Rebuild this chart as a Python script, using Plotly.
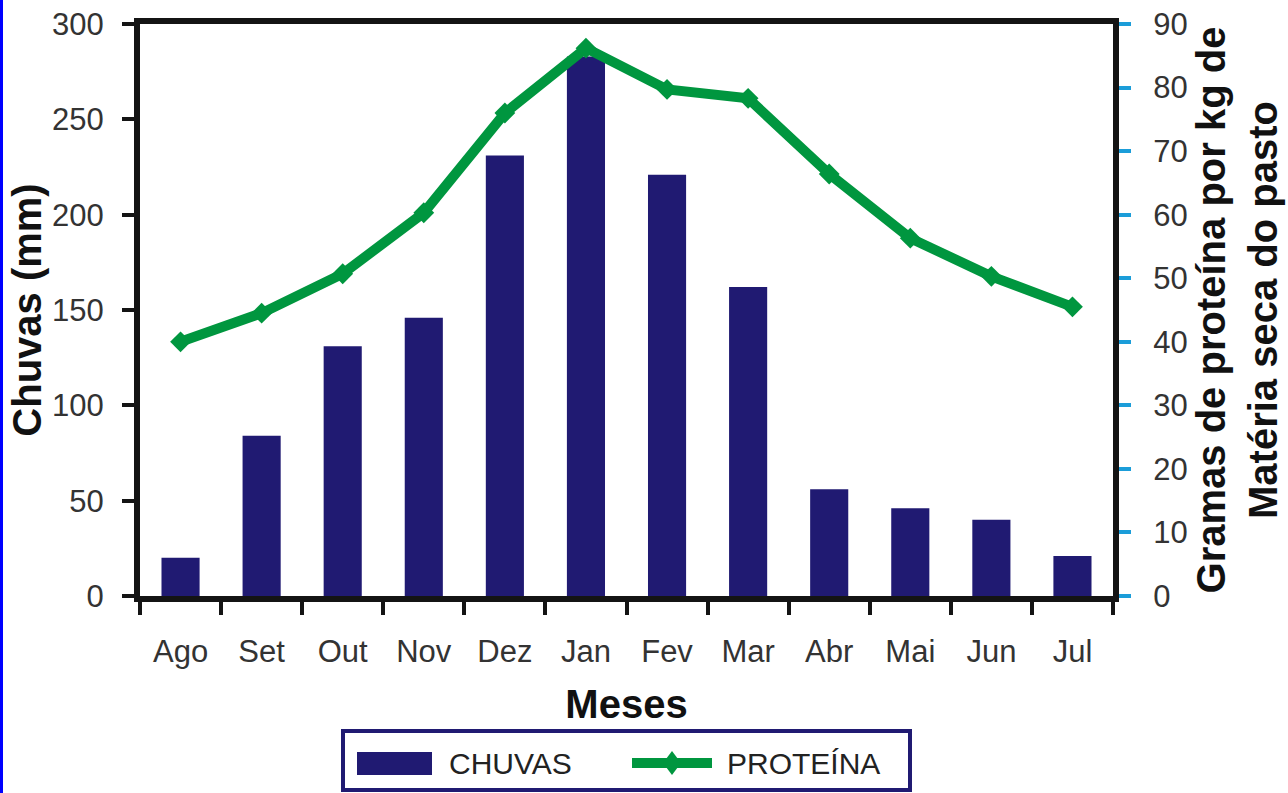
import plotly.graph_objects as go

# Monthly data (August to July)
meses = ["Ago", "Set", "Out", "Nov", "Dez", "Jan", "Fev", "Mar", "Abr", "Mai", "Jun", "Jul"]
chuvas_mm = [20, 84, 131, 146, 231, 283, 221, 162, 56, 46, 40, 21]
proteina_g_kg = [40, 44.5, 50.7, 60.3, 76, 86.2, 79.7, 78.3, 66.4, 56.3, 50.3, 45.5]

nome_chuvas = "CHUVAS"
nome_proteina = "PROTEÍNA"

COR_BARRA = "#201A72"
COR_LINHA = "#00963F"
COR_TICK_DIR = "#1B9DD9"
COR_EIXO = "#141414"
COR_TEXTO = "#333333"
FONTE = "Liberation Sans, Arial, sans-serif"

W, H = 1288, 793
L, R, T, B = 140, 1113, 24, 596


def px_x(px):
    return (px - L) / (R - L)


def px_y(py):
    return (B - py) / (B - T)


fig = go.Figure()

fig.add_trace(go.Bar(
    x=meses, y=chuvas_mm, name=nome_chuvas,
    marker=dict(color=COR_BARRA, line=dict(width=0)),
    yaxis="y", showlegend=False,
))

fig.add_trace(go.Scatter(
    x=meses, y=proteina_g_kg, name=nome_proteina, mode="lines+markers",
    line=dict(color=COR_LINHA, width=10),
    marker=dict(symbol="diamond", size=16, color=COR_LINHA),
    yaxis="y2", showlegend=False,
))

tick_font = dict(family=FONTE, size=31, color=COR_TEXTO)
title_font = dict(family=FONTE, size=40, color="#111111")

fig.update_layout(
    width=W, height=H,
    margin=dict(l=L, r=W - R, t=T, b=H - B),
    paper_bgcolor="white", plot_bgcolor="white",
    bargap=0.53,
    font=dict(family=FONTE),
    xaxis=dict(
        type="category", categoryorder="array", categoryarray=meses,
        range=[-0.5, len(meses) - 0.5], automargin=False,
        showline=True, linewidth=6, linecolor=COR_EIXO, mirror=True,
        ticks="outside", ticklen=13, tickwidth=4, tickcolor=COR_EIXO,
        tickson="boundaries", tickfont=tick_font, ticklabelstandoff=23,
        showgrid=False, zeroline=False,
        title=dict(text="<b>Meses</b>", font=title_font, standoff=24),
    ),
    xaxis2=dict(
        overlaying="x", anchor="y", range=[-0.5, len(meses) - 0.5],
        tickvals=[i - 0.5 for i in range(len(meses) + 1)],
        ticks="inside", ticklen=12, tickwidth=4, tickcolor=COR_EIXO,
        showticklabels=False, showline=False, showgrid=False, zeroline=False,
    ),
    yaxis=dict(
        range=[0, 300], dtick=50, automargin=False,
        showline=True, linewidth=6, linecolor=COR_EIXO,
        ticks="outside", ticklen=12, tickwidth=4, tickcolor=COR_EIXO,
        tickfont=tick_font, ticklabelstandoff=12,
        showgrid=False, zeroline=False,
        title=dict(text="<b>Chuvas (mm)</b>", font=title_font, standoff=0),
    ),
    yaxis2=dict(
        range=[0, 90], dtick=10, overlaying="y", side="right", anchor="x",
        automargin=False,
        showline=True, linewidth=6, linecolor=COR_EIXO,
        ticks="outside", ticklen=12, tickwidth=4, tickcolor=COR_TICK_DIR,
        tickfont=tick_font, ticklabelstandoff=16,
        showgrid=False, zeroline=False,
        title=dict(text="<b>Gramas de proteína por kg de<br>Matéria seca do pasto</b>",
                   font=title_font, standoff=12),
    ),
    yaxis3=dict(
        range=[0, 300], dtick=50, overlaying="y", side="left", anchor="x",
        ticks="inside", ticklen=12, tickwidth=4, tickcolor=COR_EIXO,
        showticklabels=False, showline=False, showgrid=False, zeroline=False,
    ),
    yaxis4=dict(
        range=[0, 90], dtick=10, overlaying="y", side="right", anchor="x",
        ticks="inside", ticklen=12, tickwidth=4, tickcolor=COR_TICK_DIR,
        showticklabels=False, showline=False, showgrid=False, zeroline=False,
    ),
)

# Legend box drawn below the axis title
shapes = [
    dict(type="rect", xref="paper", yref="paper",
         x0=px_x(343), x1=px_x(910), y0=px_y(790), y1=px_y(731),
         line=dict(color=COR_BARRA, width=4), fillcolor="white"),
    dict(type="rect", xref="paper", yref="paper",
         x0=px_x(357), x1=px_x(432), y0=px_y(775), y1=px_y(752),
         line=dict(width=0), fillcolor=COR_BARRA),
    dict(type="line", xref="paper", yref="paper",
         x0=px_x(632), x1=px_x(712), y0=px_y(763), y1=px_y(763),
         line=dict(color=COR_LINHA, width=10)),
    dict(type="path", xref="paper", yref="paper",
         path="M {a},{b} L {c},{d} L {a},{e} L {f},{d} Z".format(
             a=px_x(672), b=px_y(751), c=px_x(681), d=px_y(763),
             e=px_y(775), f=px_x(663)),
         line=dict(width=0), fillcolor=COR_LINHA),
    # blue edge on the left border of the page
    dict(type="rect", xref="paper", yref="paper",
         x0=px_x(0), x1=px_x(3), y0=px_y(H), y1=px_y(0),
         line=dict(width=0), fillcolor="#0000FF"),
]
fig.update_layout(shapes=shapes)

legend_font = dict(family=FONTE, size=30, color="#222222")
fig.add_annotation(xref="paper", yref="paper", x=px_x(447), y=px_y(763),
                   text=nome_chuvas, showarrow=False, xanchor="left",
                   yanchor="middle", font=legend_font)
fig.add_annotation(xref="paper", yref="paper", x=px_x(725), y=px_y(763),
                   text=nome_proteina, showarrow=False, xanchor="left",
                   yanchor="middle", font=legend_font)

fig.write_html("out.html")
